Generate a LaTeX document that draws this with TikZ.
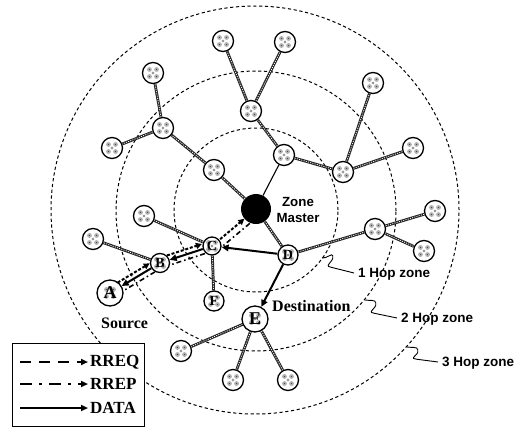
\documentclass[tikz,border=0pt]{standalone}
\usepackage{fontspec}
\setmainfont{Liberation Serif}
\setsansfont{Liberation Sans}
\usetikzlibrary{calc,arrows.meta,backgrounds}
\begin{document}
\begin{tikzpicture}[x=1pt,y=-1pt,
  nd/.style={circle,draw,line width=1.3pt,fill=white,inner sep=0pt,minimum size=21pt,
    path picture={
      \foreach \ang in {45,135,225,315}{\fill[gray!60] ($(path picture bounding box.center)+(\ang:5pt)$) circle (2.4pt);
        \fill[black!70] ($(path picture bounding box.center)+(\ang:5pt)$) circle (0.7pt);}
      \fill[gray!60] (path picture bounding box.center) circle (1.6pt);
      \fill[black!70] (path picture bounding box.center) circle (0.6pt);}},
  ltr/.style={nd,font=\bfseries\fontsize{14}{14}\selectfont},
  hub/.style={circle,fill=black,minimum size=30pt,inner sep=0pt},
  lnk/.style={line width=2.8pt,draw=black!85,postaction={draw=white,line width=0.8pt,dash pattern=on 1pt off 1.3pt}},
  zone/.style={line width=1pt,dash pattern=on 3.2pt off 2.6pt},
  data/.style={line width=2pt,-{Triangle[length=7pt,width=6.5pt]}},
  rreq/.style={line width=2pt,dash pattern=on 3pt off 1.8pt,-{Triangle[length=6pt,width=6pt]}},
  rrep/.style={line width=1.6pt,dash pattern=on 5pt off 3pt on 1.5pt off 3pt},
  hop/.style={font=\sffamily\bfseries\fontsize{13.5}{14}\selectfont,anchor=west,inner sep=0pt},
  lbl/.style={font=\bfseries\fontsize{16}{16}\selectfont,anchor=west,inner sep=0pt},
  leglbl/.style={font=\bfseries\fontsize{17}{17}\selectfont,anchor=west,inner sep=0pt},
  sq/.style={line width=0.9pt,rounded corners=1.5pt},
]
\useasboundingbox (0,0) rectangle (526,428);

% nodes
\node[hub] (zm) at (256,209) {};
\node[nd] (n1) at (214,170) {};
\node[nd] (n2) at (163,128) {};
\node[nd] (n3) at (153,73) {};
\node[nd] (n4) at (112,148) {};
\node[nd] (n5) at (284,155) {};
\node[nd] (n6) at (251,111) {};
\node[nd] (n7) at (223,41) {};
\node[nd] (n8) at (285,42) {};
\node[nd] (n9) at (343,172) {};
\node[nd] (n10) at (373,83) {};
\node[nd] (n11) at (413,148) {};
\node[nd] (n12) at (144,216) {};
\node[nd] (n13) at (93,239) {};
\node[nd] (n14) at (375,229) {};
\node[nd] (n15) at (435,211) {};
\node[nd] (n16) at (424,251) {};
\node[nd] (n17) at (181,351) {};
\node[nd] (n18) at (233,380) {};
\node[nd] (n19) at (288,380) {};
\node[ltr,minimum size=26pt,font=\bfseries\fontsize{18}{18}\selectfont] (A) at (110,293) {A};
\node[ltr,minimum size=19pt] (B) at (160,263) {B};
\node[ltr,minimum size=18pt] (C) at (212,246) {C};
\node[ltr,minimum size=20pt] (D) at (288,255) {D};
\node[ltr,minimum size=26pt,font=\bfseries\fontsize{18}{18}\selectfont] (E) at (255,319) {E};
\node[ltr,minimum size=20pt] (F) at (214,301) {F};

\begin{scope}[on background layer]
  \draw[zone] (256,210) circle[radius=82pt];
  \draw[zone] (256,211) circle[radius=140pt];
  \draw[zone] (255,210) circle[radius=204pt];
  \foreach \a/\b in {zm/n1,n1/n2,n2/n3,n2/n4,n5/n6,n6/n7,n6/n8,n5/n9,n9/n10,n9/n11,
                     C/n12,B/n13,C/F,zm/D,D/n14,n14/n15,n14/n16,E/n17,E/n18,E/n19}
    \draw[lnk] (\a) -- (\b);
  \draw[line width=1.1pt] (zm) -- (n5);
\end{scope}

% DATA
\draw[data] (D) -- (C);
\draw[data] (C) -- (B);
\draw[data] (B) -- (A);
\draw[data] (D) -- (E);
% RREQ
\draw[rreq,shorten <=12pt,shorten >=9pt] ($(A)!5pt!90:(B)$) -- ($(B)!5pt!-90:(A)$);
\draw[rreq,shorten <=9pt,shorten >=9pt] ($(B)!5pt!90:(C)$) -- ($(C)!5pt!-90:(B)$);
\draw[rreq,shorten <=1pt] (C) -- (zm);
% RREP
\draw[rrep,shorten <=14pt,shorten >=9pt] ($(zm)!7pt!90:(C)$) -- ($(C)!7pt!-90:(zm)$);
\draw[rrep,shorten <=9pt,shorten >=9pt] ($(C)!5pt!90:(B)$) -- ($(B)!5pt!-90:(C)$);
\draw[rrep,shorten <=9pt,shorten >=12pt] ($(B)!5pt!90:(A)$) -- ($(A)!5pt!-90:(B)$);

% labels
\node[font=\sffamily\bfseries\fontsize{13.3}{16}\selectfont,align=center,inner sep=0pt] (zml) at (298,210) {Zone\\Master};
\node[lbl] (src) at (101,323) {Source};
\node[lbl] (dst) at (272,306) {Destination};
\node[hop] (h1) at (358,274) {1 Hop zone};
\node[hop] (h2) at (401,319) {2 Hop zone};
\node[hop] (h3) at (442,363) {3 Hop zone};
\draw[sq] (322,258) to[out=-10,in=100] (333,257) to[out=-100,in=160] (330,267) -- (354,273);
\draw[sq] (365,300) to[out=-10,in=100] (376,304) to[out=-100,in=160] (373,313) -- (397,318);
\draw[sq] (407,347) to[out=-10,in=100] (418,351) to[out=-100,in=160] (415,359) -- (438,362);

% legend
\node[draw,line width=1pt,fill=white,minimum width=132pt,minimum height=83pt,inner sep=0pt,anchor=north west] (leg) at (12,343) {};
\coordinate (l1a) at (20,362); \coordinate (l1b) at (88,362);
\coordinate (l2a) at (20,384); \coordinate (l2b) at (88,384);
\coordinate (l3a) at (20,408); \coordinate (l3b) at (88,408);
\draw[line width=2pt,dash pattern=on 11pt off 8pt,-{Triangle[length=7pt,width=6pt]}] (l1a) -- (l1b);
\draw[line width=2pt,dash pattern=on 12pt off 7pt on 3pt off 7pt,-{Triangle[length=7pt,width=6pt]}] (l2a) -- (l2b);
\draw[line width=2pt,-{Triangle[length=7pt,width=6pt]}] (l3a) -- (l3b);
\node[leglbl] (t1) at (90,362) {RREQ};
\node[leglbl] (t2) at (90,384) {RREP};
\node[leglbl] (t3) at (90,408) {DATA};
\end{tikzpicture}
\end{document}
